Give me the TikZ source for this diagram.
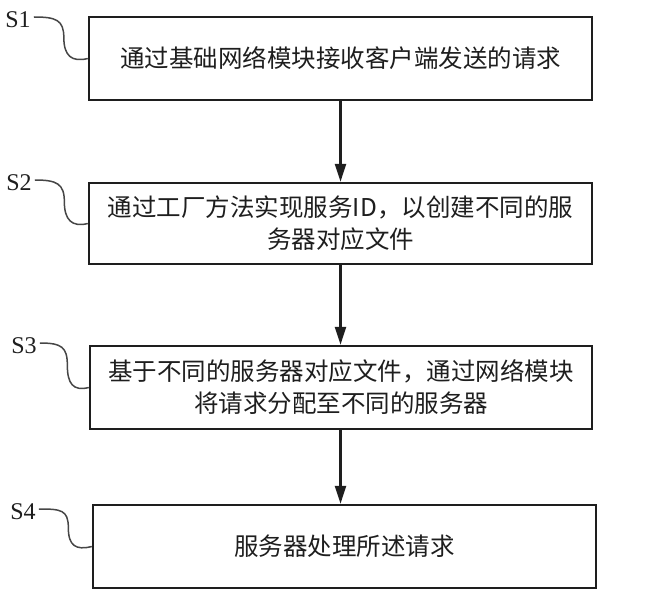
\documentclass[tikz,border=0pt]{standalone}
\usepackage{fontspec}
\setmainfont{Liberation Serif}
\newfontfamily\cjk{Noto Sans CJK SC}
\usetikzlibrary{arrows.meta,calc}
\definecolor{ink}{RGB}{30,30,30}
\definecolor{wire}{RGB}{70,70,70}
\tikzset{
  stepbox/.style={draw=ink, line width=2.4pt, rectangle, minimum width=503pt, inner sep=0pt, align=center, text=ink, font=\cjk\fontsize{24.5}{32}\selectfont},
  steplabel/.style={inner sep=0pt, text=ink, font=\fontsize{24}{24}\selectfont},
  flow/.style={draw=ink, line width=2.4pt, -{Triangle[length=18pt,width=11pt]}},
  tag/.style={draw=wire, line width=1.5pt}
}
\begin{document}
\begin{tikzpicture}[x=1pt,y=-1pt]
\useasboundingbox (0,0) rectangle (650,596);
\node[stepbox, minimum height=83pt] (b1) at (340.5,58.5) {通过基础网络模块接收客户端发送的请求};
\node[stepbox, minimum height=81pt] (b2) at (340.5,223.5) {通过工厂方法实现服务ID，以创建不同的服\\务器对应文件};
\node[stepbox, minimum height=83pt, minimum width=502pt] (b3) at (341,387.5) {基于不同的服务器对应文件，通过网络模块\\将请求分配至不同的服务器};
\node[stepbox, minimum height=83pt] (b4) at (344.5,546.5) {服务器处理所述请求};
\node[steplabel] (s1) at (18,20) {S1};
\node[steplabel] (s2) at (19,183) {S2};
\node[steplabel] (s3) at (24,346) {S3};
\node[steplabel] (s4) at (23,512) {S4};
\draw[flow] (b1.south) -- (b1.south |- b2.north);
\draw[flow] (b1.south |- b2.south) -- (b1.south |- b3.north);
\draw[flow] (b1.south |- b3.south) -- (b1.south |- b4.north);
\foreach \s/\b in {s1/b1,s2/b2,s3/b3,s4/b4}{
  \coordinate (m) at ($($(\s.east)+(3,-3)$)!0.5!(\b.west)+(3,0)$);
  \draw[tag] ($(\s.east)+(3,-3)$) .. controls +(22,0) and +(0,-18) .. (m)
    .. controls +(0,18) and +(-16,4) .. (\b.west);
}
\end{tikzpicture}
\end{document}
